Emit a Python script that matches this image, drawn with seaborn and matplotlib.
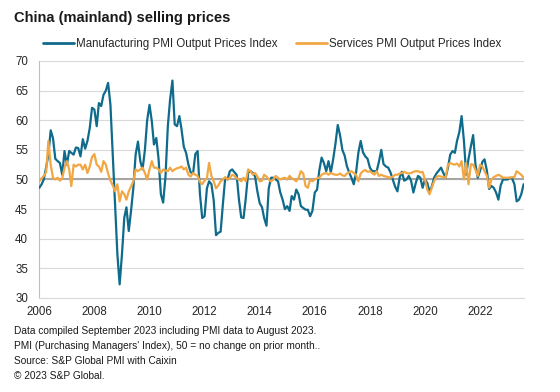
import matplotlib
matplotlib.use("Agg")
import matplotlib.pyplot as plt
import matplotlib.dates as mdates
import pandas as pd
import numpy as np
import seaborn as sns

# monthly readings, Jan 2006 - Aug 2023
manufacturing = [
    48.6, 49.2, 50.0, 52.0, 54.2, 58.3, 57.0, 53.5, 53.1, 52.8, 50.8, 54.8,  # 2006
    52.5, 54.8, 54.5, 54.2, 55.4, 55.3, 53.9, 56.8, 55.2, 56.5, 58.7, 62.1,  # 2007
    61.8, 59.0, 62.9, 62.4, 64.3, 65.0, 66.3, 62.6, 54.2, 45.8, 37.4, 32.3,  # 2008
    37.4, 43.6, 45.3, 41.3, 44.7, 48.6, 54.2, 56.4, 53.1, 51.7, 55.0, 60.0,  # 2009
    62.6, 59.8, 55.9, 57.0, 53.5, 47.5, 46.1, 50.5, 59.0, 63.5, 66.7, 59.3,  # 2010
    59.0, 60.7, 58.5, 55.5, 54.5, 52.5, 51.2, 51.0, 54.3, 54.8, 47.5, 43.5,  # 2011
    43.8, 48.5, 49.7, 49.2, 46.5, 40.6, 41.0, 41.2, 46.0, 50.3, 50.0, 51.4,  # 2012
    51.7, 51.2, 50.8, 46.6, 43.6, 43.5, 46.9, 51.2, 51.4, 51.1, 50.5, 48.0,  # 2013
    46.0, 45.3, 43.5, 42.2, 48.5, 50.3, 50.3, 50.0, 49.7, 47.8, 46.6, 45.0,  # 2014
    45.5, 44.7, 47.2, 46.6, 48.3, 47.5, 45.5, 45.2, 44.9, 44.9, 43.8, 44.7,  # 2015
    47.8, 48.3, 51.5, 53.7, 52.8, 51.4, 53.1, 51.2, 53.4, 56.0, 59.2, 57.5,  # 2016
    55.0, 54.0, 52.3, 51.2, 50.3, 49.2, 51.1, 54.5, 56.5, 54.6, 53.9, 53.5,  # 2017
    52.0, 51.4, 51.4, 51.4, 53.0, 55.0, 52.6, 52.2, 52.0, 51.2, 50.0, 48.8,  # 2018
    48.0, 50.4, 51.3, 49.8, 50.0, 50.6, 49.8, 47.8, 49.4, 50.6, 50.3, 48.6,  # 2019
    50.0, 49.4, 48.0, 48.8, 50.3, 51.0, 51.5, 52.0, 51.1, 50.3, 52.0, 54.2,  # 2020
    54.8, 54.5, 56.5, 58.0, 60.7, 56.5, 50.8, 53.5, 55.6, 57.5, 52.5, 50.3,  # 2021
    51.5, 53.0, 53.4, 51.5, 48.4, 48.9, 48.6, 47.8, 46.6, 49.0, 50.0, 50.0,  # 2022
    50.0, 50.3, 50.2, 49.2, 46.3, 46.6, 47.5, 49.2,                          # 2023
]
services = [
    49.7, 50.2, 50.6, 51.2, 56.5, 52.5, 50.3, 50.0, 50.3, 49.8, 50.2, 52.0,  # 2006
    53.1, 51.7, 48.9, 52.5, 52.2, 52.5, 52.5, 51.7, 52.5, 51.1, 52.2, 53.8,  # 2007
    54.3, 52.5, 52.2, 51.3, 53.1, 52.5, 51.0, 49.8, 49.0, 48.0, 49.2, 46.3,  # 2008
    48.0, 47.5, 46.6, 48.0, 48.8, 49.7, 51.7, 51.4, 51.7, 52.0, 51.1, 50.0,  # 2009
    51.7, 53.1, 52.0, 52.0, 51.7, 51.1, 51.7, 51.5, 51.4, 52.0, 51.4, 51.7,  # 2010
    51.9, 52.0, 52.2, 51.7, 52.0, 50.8, 50.5, 51.1, 50.8, 50.6, 49.6, 49.2,  # 2011
    49.8, 50.2, 52.8, 50.6, 49.7, 48.5, 49.0, 49.7, 50.0, 50.4, 50.0, 50.3,  # 2012
    50.8, 50.6, 50.2, 50.0, 49.7, 50.3, 49.7, 51.7, 51.4, 50.8, 51.1, 50.5,  # 2013
    49.7, 49.8, 50.8, 50.5, 50.0, 49.7, 50.0, 50.6, 50.3, 50.0, 50.2, 50.3,  # 2014
    50.0, 50.6, 50.2, 50.0, 49.7, 50.3, 51.4, 51.0, 48.9, 48.6, 50.0, 49.7,  # 2015
    50.0, 50.2, 50.3, 50.8, 51.0, 51.1, 50.8, 51.1, 50.9, 50.8, 50.8, 51.0,  # 2016
    50.7, 50.6, 51.0, 51.2, 51.4, 51.1, 50.8, 49.7, 51.0, 51.4, 51.6, 51.3,  # 2017
    51.4, 51.1, 50.8, 51.4, 50.6, 50.8, 50.6, 50.5, 50.4, 50.3, 50.5, 50.8,  # 2018
    50.8, 51.0, 51.1, 51.3, 51.1, 51.0, 51.1, 51.3, 51.4, 51.4, 51.2, 51.3,  # 2019
    50.0, 48.3, 47.5, 48.6, 49.7, 50.4, 50.6, 50.5, 50.4, 50.3, 52.5, 52.8,  # 2020
    52.6, 52.5, 52.7, 52.2, 53.1, 50.0, 52.8, 49.2, 52.6, 52.5, 51.6, 50.6,  # 2021
    52.5, 52.2, 51.4, 50.6, 48.6, 50.0, 50.4, 50.6, 50.8, 50.6, 50.3, 50.3,  # 2022
    50.3, 50.3, 50.4, 50.4, 51.4, 51.1, 50.8, 50.3,                          # 2023
]
series_names = ["Manufacturing PMI Output Prices Index", "Services PMI Output Prices Index"]
colors = ["#0f6b8b", "#f2a745"]
months = pd.date_range("2006-01-01", periods=len(manufacturing), freq="MS")

df = pd.concat([
    pd.DataFrame({"date": months, "value": manufacturing, "series": series_names[0]}),
    pd.DataFrame({"date": months, "value": services, "series": series_names[1]}),
])

sns.set_style("white")
plt.rcParams["font.family"] = ["Liberation Sans", "DejaVu Sans"]

fig = plt.figure(figsize=(5.6, 3.92), dpi=100)
ax = fig.add_axes([0.0702, 0.2398, 0.8648, 0.6046])

ax.axhline(50, color="#a6a6a6", lw=1.5, zorder=1)
sns.lineplot(data=df, x="date", y="value", hue="series", palette=colors,
             linewidth=1.6, ax=ax, legend=False, zorder=3)

ax.set_ylim(30, 70)
ax.set_yticks(range(30, 71, 5))
ax.set_xlim(months[0], months[-1])
ax.xaxis.set_major_locator(mdates.YearLocator(2))
ax.xaxis.set_major_formatter(mdates.DateFormatter("%Y"))
ax.grid(axis="y", color="#d9d9d9", lw=0.8)
ax.set_axisbelow(True)
ax.set_xlabel("")
ax.set_ylabel("")
ax.tick_params(axis="both", length=0, labelsize=8.3, colors="#262626")
ax.tick_params(axis="y", pad=8)
ax.tick_params(axis="x", pad=6)
for side in ["top", "right"]:
    ax.spines[side].set_visible(False)
ax.spines["left"].set_color("#bfbfbf")
ax.spines["bottom"].set_color("#d9d9d9")
ax.spines["left"].set_linewidth(0.8)
ax.spines["bottom"].set_linewidth(0.8)

handles = [plt.Line2D([], [], color=c, lw=2) for c in colors]
fig.legend(handles, series_names, loc="center left", bbox_to_anchor=(0.058, 0.888),
           ncol=2, frameon=False, fontsize=8.3, handlelength=2.7, handletextpad=0.15,
           columnspacing=1.6)

fig.text(0.025, 0.955, "China (mainland) selling prices", fontsize=10.5,
         fontweight="bold", va="center", ha="left", color="#1a1a1a")

notes = [
    "Data compiled September 2023 including PMI data to August 2023.",
    "PMI (Purchasing Managers' Index), 50 = no change on prior month..",
    "Source: S&P Global PMI with Caixin",
    "\u00a9 2023 S&P Global.",
]
for i, line in enumerate(notes):
    fig.text(0.025, 1 - (331 + 15 * i) / 392, line, fontsize=7.3, va="center",
             ha="left", color="#1a1a1a")

fig.savefig("out.png", dpi=100)
